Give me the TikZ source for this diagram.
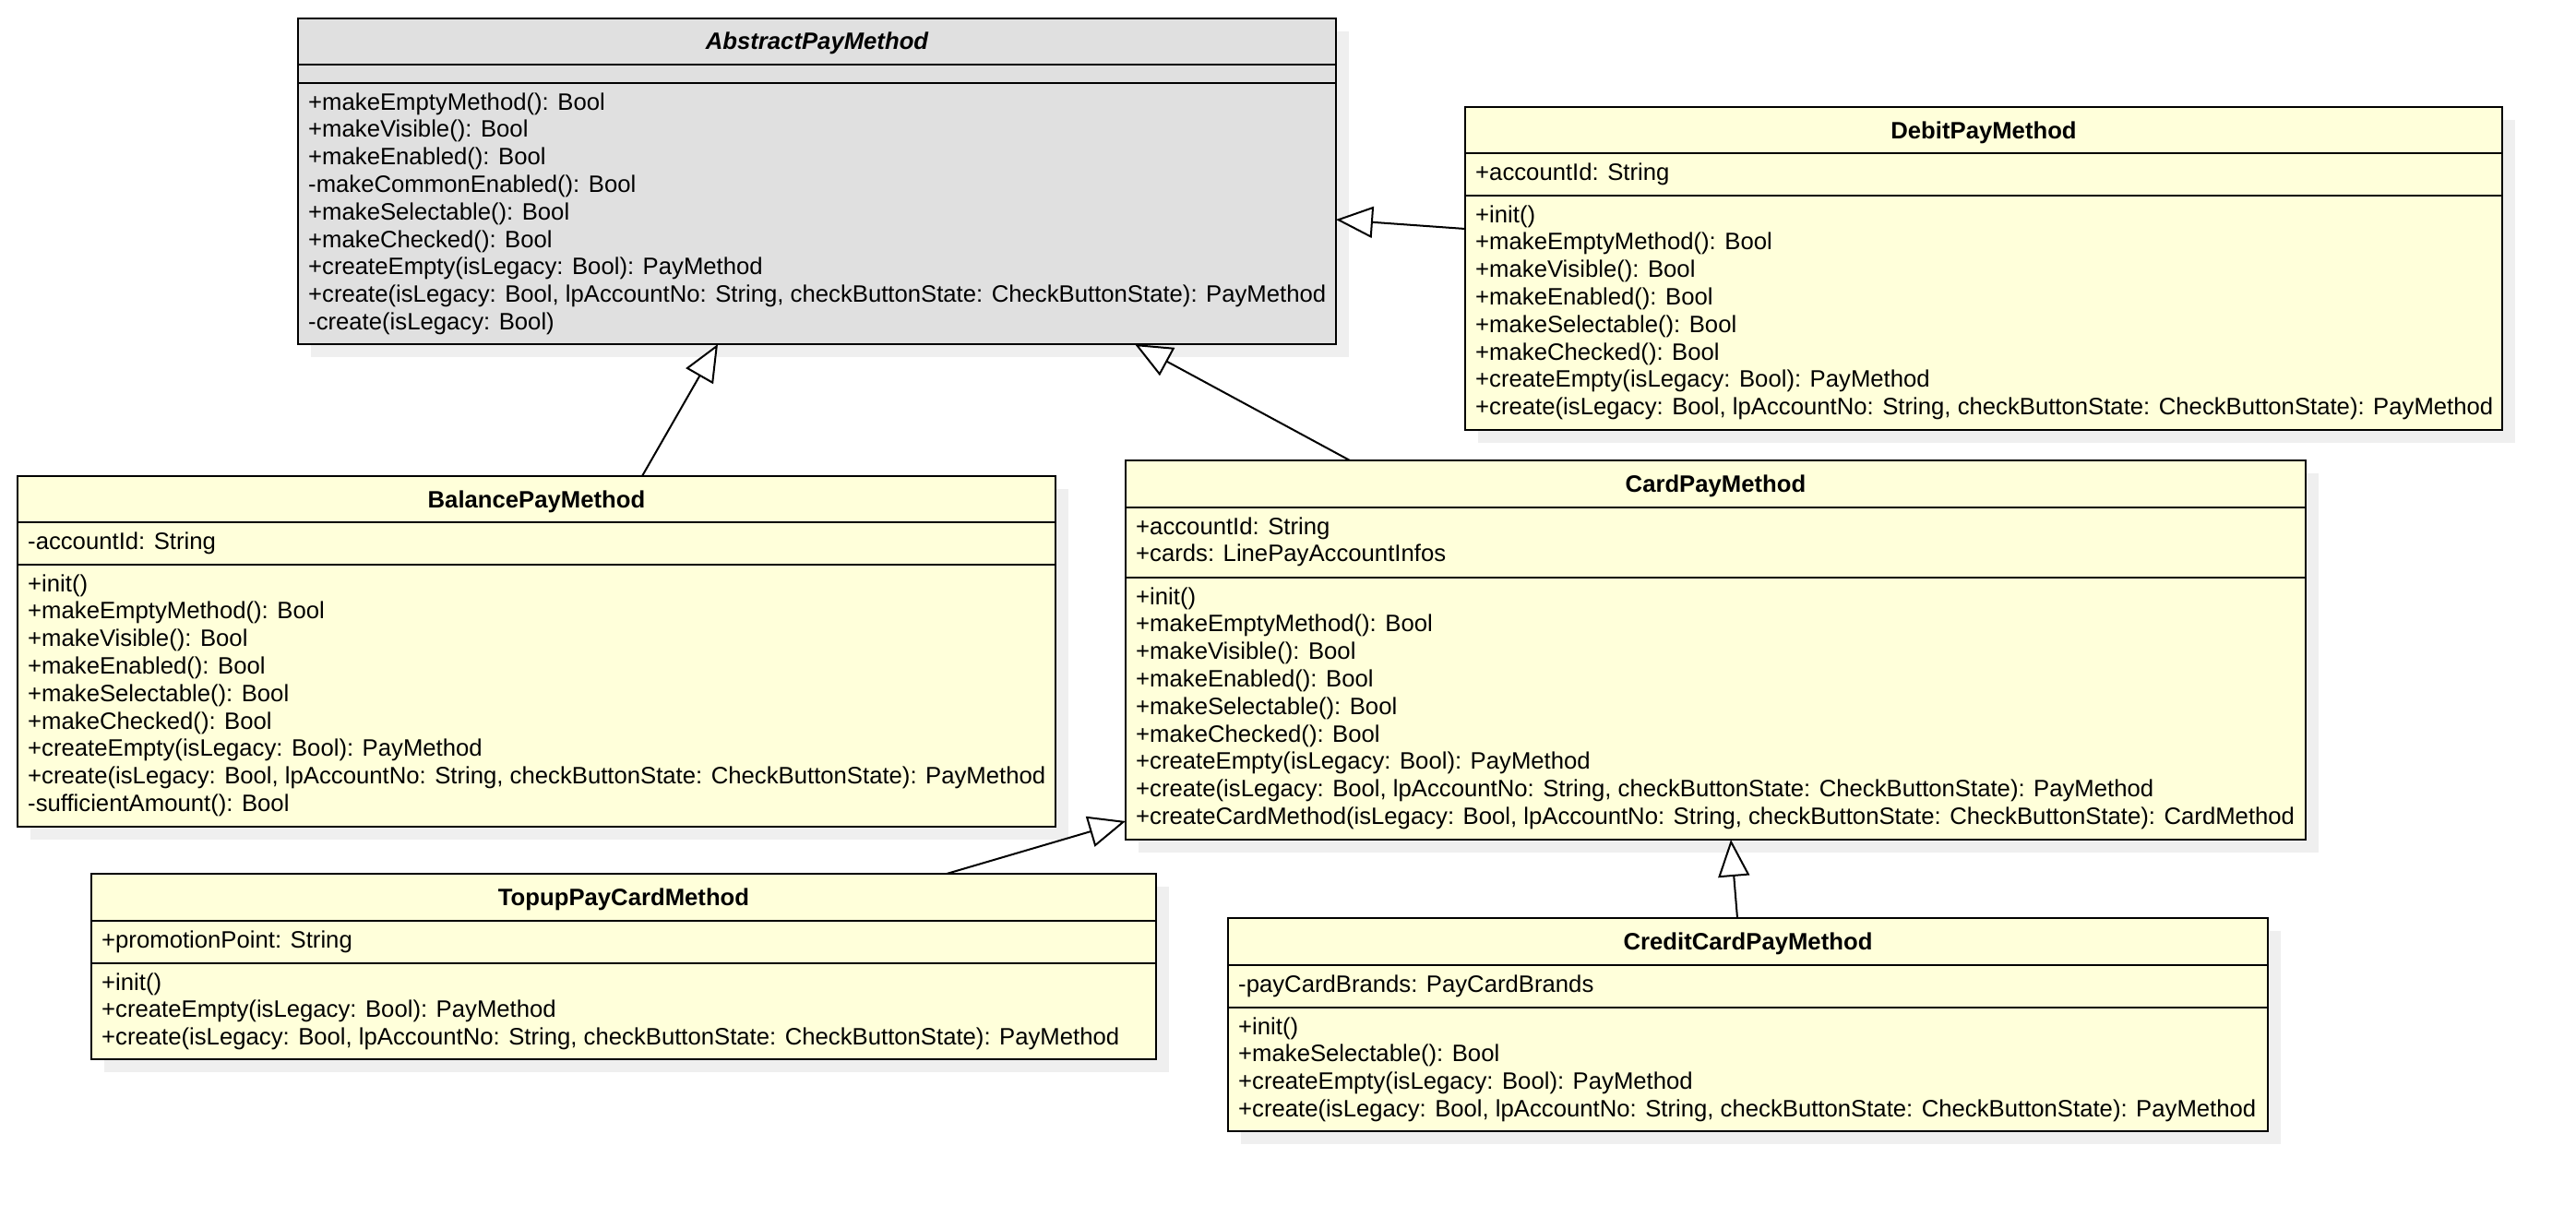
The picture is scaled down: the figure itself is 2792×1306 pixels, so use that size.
\documentclass[tikz,border=0pt]{standalone}
\usepackage{fontspec}
\setmainfont{Liberation Sans}
\usetikzlibrary{arrows.meta}
\definecolor{yel}{HTML}{FFFFDA}
\definecolor{absgray}{HTML}{E0E0E0}
\definecolor{shad}{HTML}{EFEFEF}
\tikzset{
  classbox/.style={draw=black, line width=2.5pt, rectangle, inner sep=0pt, outer sep=0pt, anchor=north west},
  sepline/.style={draw=black, line width=2.5pt},
  txt/.style={inner sep=0pt, anchor=base west, font=\fontsize{25.7}{29.8}\selectfont},
  ttl/.style={inner sep=0pt, anchor=base, font=\fontsize{25.7}{29.8}\selectfont\bfseries},
  inh/.style={draw=black, line width=2pt, -{Triangle[fill=white, length=40pt, width=34pt]}},
}
\newcommand{\umlclass}[8]{%
  \fill[shad] (#2+14,#3+14) rectangle (#4+14,#5+14);
  \node[classbox, fill=#8, minimum width=#4pt-#2pt, minimum height=#5pt-#3pt] (#1) at (#2,#3) {};
  \draw[sepline] (#2,#6) -- (#4,#6);
  \draw[sepline] (#2,#7) -- (#4,#7);
}
\newcommand{\textlines}[4]{%
  \foreach \t [count=\i] in {#4} {
    \node[txt] (#1\i) at (#2+11, #3+29+\i*29.8-29.8) {\t};
  }
}
\begin{document}
\begin{tikzpicture}[x=1pt,y=-1pt]
\fill[white] (0,0) rectangle (2792,1306);
\useasboundingbox (0,0) rectangle (2792,1306);

% AbstractPayMethod
\umlclass{abs}{323}{20}{1448}{373}{70}{90}{absgray}
\node[ttl] (abs-t) at ({(323+1448)/2}, 54) {\itshape AbstractPayMethod};
\textlines{absm}{323}{90}{{+makeEmptyMethod(): Bool},{+makeVisible(): Bool},{+makeEnabled(): Bool},{-makeCommonEnabled(): Bool},{+makeSelectable(): Bool},{+makeChecked(): Bool},{+createEmpty(isLegacy: Bool): PayMethod},{+create(isLegacy: Bool, lpAccountNo: String, checkButtonState: CheckButtonState): PayMethod},{-create(isLegacy: Bool)}}

% DebitPayMethod
\umlclass{debit}{1588}{116}{2712}{466}{166}{212}{yel}
\node[ttl] (debit-t) at ({(1588+2712)/2}, 150) {DebitPayMethod};
\textlines{debita}{1588}{166}{{+accountId: String}}
\textlines{debitm}{1588}{212}{{+init()},{+makeEmptyMethod(): Bool},{+makeVisible(): Bool},{+makeEnabled(): Bool},{+makeSelectable(): Bool},{+makeChecked(): Bool},{+createEmpty(isLegacy: Bool): PayMethod},{+create(isLegacy: Bool, lpAccountNo: String, checkButtonState: CheckButtonState): PayMethod}}

% BalancePayMethod
\umlclass{balance}{19}{516}{1144}{896}{566}{612}{yel}
\node[ttl] (balance-t) at ({(19+1144)/2}, 550) {BalancePayMethod};
\textlines{balancea}{19}{566}{{-accountId: String}}
\textlines{balancem}{19}{612}{{+init()},{+makeEmptyMethod(): Bool},{+makeVisible(): Bool},{+makeEnabled(): Bool},{+makeSelectable(): Bool},{+makeChecked(): Bool},{+createEmpty(isLegacy: Bool): PayMethod},{+create(isLegacy: Bool, lpAccountNo: String, checkButtonState: CheckButtonState): PayMethod},{-sufficientAmount(): Bool}}

% CardPayMethod
\umlclass{card}{1220}{499}{2499}{910}{550}{626}{yel}
\node[ttl] (card-t) at ({(1220+2499)/2}, 533) {CardPayMethod};
\textlines{carda}{1220}{550}{{+accountId: String},{+cards: LinePayAccountInfos}}
\textlines{cardm}{1220}{626}{{+init()},{+makeEmptyMethod(): Bool},{+makeVisible(): Bool},{+makeEnabled(): Bool},{+makeSelectable(): Bool},{+makeChecked(): Bool},{+createEmpty(isLegacy: Bool): PayMethod},{+create(isLegacy: Bool, lpAccountNo: String, checkButtonState: CheckButtonState): PayMethod},{+createCardMethod(isLegacy: Bool, lpAccountNo: String, checkButtonState: CheckButtonState): CardMethod}}

% TopupPayCardMethod
\umlclass{topup}{99}{947}{1253}{1148}{998}{1044}{yel}
\node[ttl] (topup-t) at ({(99+1253)/2}, 981) {TopupPayCardMethod};
\textlines{topupa}{99}{998}{{+promotionPoint: String}}
\textlines{topupm}{99}{1044}{{+init()},{+createEmpty(isLegacy: Bool): PayMethod},{+create(isLegacy: Bool, lpAccountNo: String, checkButtonState: CheckButtonState): PayMethod}}

% CreditCardPayMethod
\umlclass{credit}{1331}{995}{2458}{1226}{1046}{1092}{yel}
\node[ttl] (credit-t) at ({(1331+2458)/2}, 1029) {CreditCardPayMethod};
\textlines{credita}{1331}{1046}{{-payCardBrands: PayCardBrands}}
\textlines{creditm}{1331}{1092}{{+init()},{+makeSelectable(): Bool},{+createEmpty(isLegacy: Bool): PayMethod},{+create(isLegacy: Bool, lpAccountNo: String, checkButtonState: CheckButtonState): PayMethod}}

% generalizations
\draw[inh] ([xshift=677pt]balance.north west) -- ([xshift=455pt]abs.south west);
\draw[inh] ([xshift=243pt]card.north west) -- ([xshift=907pt]abs.south west);
\draw[inh] ([yshift=-132pt]debit.north west) -- ([yshift=-218pt]abs.north east);
\draw[inh] ([xshift=927pt]topup.north west) -- ([yshift=20pt]card.south west);
\draw[inh] ([xshift=552pt]credit.north west) -- ([xshift=656pt]card.south west);
\end{tikzpicture}
\end{document}
